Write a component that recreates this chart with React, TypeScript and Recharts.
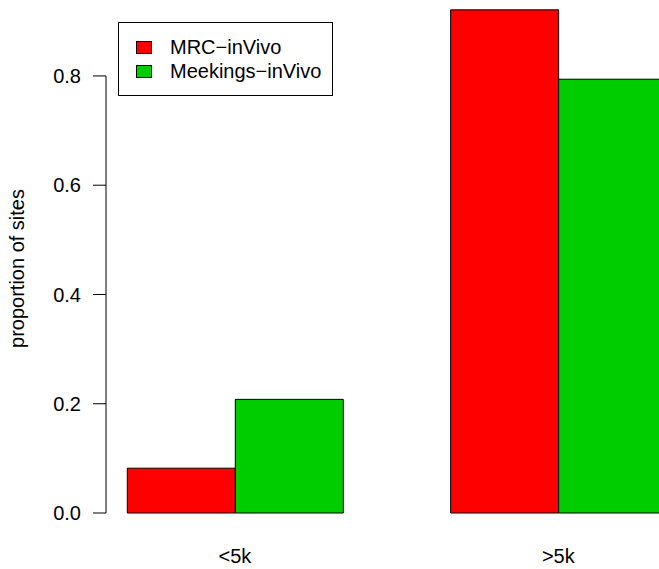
import { Bar, BarChart, ReferenceLine, XAxis, YAxis, Label } from 'recharts';

const categories = ['<5k', '>5k'];
const mrcValues = [0.082, 0.921];
const meekingsValues = [0.208, 0.794];
const yTicks = [0, 0.2, 0.4, 0.6, 0.8];

const seriesNames = ['MRC\u2212inVivo', 'Meekings\u2212inVivo'];
const seriesColors = ['#ff0000', '#00cd00'];

const FONT = '"Liberation Sans", Arial, Helvetica, sans-serif';

function YLabel(props: any) {
  const { viewBox } = props;
  const cx = viewBox.x + 24;
  const cy = viewBox.y + viewBox.height / 2 + 12;
  return (
    <text
      x={cx}
      y={cy}
      transform={`rotate(-90 ${cx} ${cy})`}
      textAnchor="middle"
      fontSize={20}
      fill="#000"
    >
      proportion of sites
    </text>
  );
}

function LegendBox() {
  return (
    <div
      style={{
        position: 'absolute',
        left: 118,
        top: 22,
        width: 213,
        height: 72,
        border: '1px solid #000',
        background: '#fff',
        fontSize: 20,
        fontFamily: FONT,
        color: '#000',
      }}
    >
      {seriesNames.map((name, i) => (
        <div
          key={name}
          style={{
            position: 'absolute',
            left: 17,
            top: 12 + i * 24.5,
            height: 24,
            display: 'flex',
            alignItems: 'center',
            whiteSpace: 'nowrap',
          }}
        >
          <span
            style={{
              display: 'inline-block',
              width: 14,
              height: 11,
              background: seriesColors[i],
              border: '1px solid #000',
              marginRight: 18,
            }}
          />
          <span>{name}</span>
        </div>
      ))}
    </div>
  );
}

export default function App() {
  const data = categories.map((group, i) => ({
    group,
    mrc: mrcValues[i],
    meekings: meekingsValues[i],
  }));

  return (
    <div
      style={{
        position: 'absolute',
        left: 0,
        top: 0,
        width: 659,
        height: 569,
        overflow: 'hidden',
        background: '#fff',
        fontFamily: FONT,
      }}
    >
      <BarChart
        width={720}
        height={569}
        data={data}
        barGap={0}
        margin={{ top: 0, right: 0, bottom: 6, left: 0 }}
      >
        <XAxis
          dataKey="group"
          axisLine={false}
          tickLine={false}
          tickSize={0}
          tickMargin={36}
          height={50}
          padding={{ left: -32.7, right: 0 }}
          tick={{ fontSize: 20, fill: '#000' }}
        />
        <XAxis xAxisId="spine" type="number" domain={[0, 1]} hide />
        <YAxis
          type="number"
          domain={[0, 0.939]}
          ticks={yTicks}
          width={106}
          axisLine={false}
          tickLine={{ stroke: '#000' }}
          tickSize={13}
          tickMargin={12}
          tickFormatter={(v: number) => v.toFixed(1)}
          tick={{ fontSize: 20, fill: '#000' }}
        >
          <Label content={<YLabel />} />
        </YAxis>
        <ReferenceLine
          xAxisId="spine"
          segment={[
            { x: 0, y: yTicks[0] },
            { x: 0, y: yTicks[yTicks.length - 1] },
          ]}
          stroke="#000"
          ifOverflow="visible"
        />
        <Bar
          dataKey="mrc"
          name={seriesNames[0]}
          fill={seriesColors[0]}
          stroke="#000"
          barSize={108}
          isAnimationActive={false}
        />
        <Bar
          dataKey="meekings"
          name={seriesNames[1]}
          fill={seriesColors[1]}
          stroke="#000"
          barSize={108}
          isAnimationActive={false}
        />
      </BarChart>
      <LegendBox />
    </div>
  );
}
